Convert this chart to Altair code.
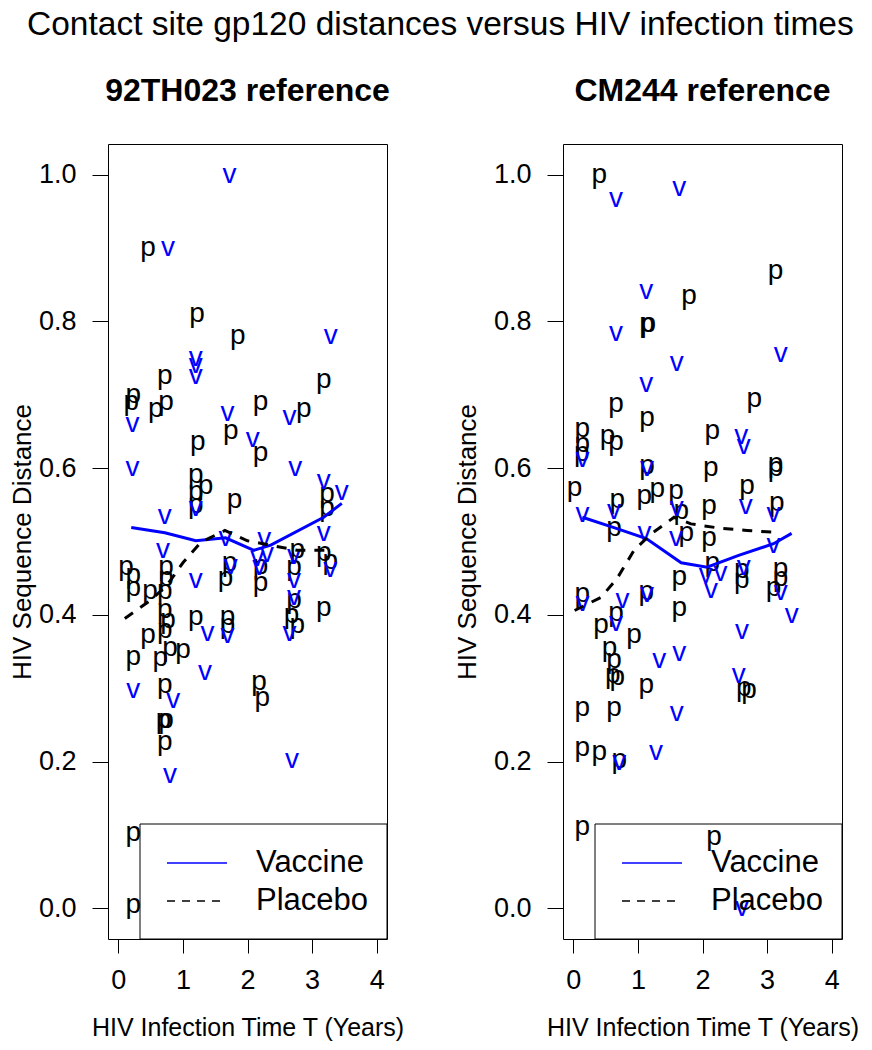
import altair as alt
import pandas as pd

FONT = "Liberation Sans"

# ---------------- 92TH023 reference (left panel) ----------------
L_PLAC_X = [0.46, 1.22, 1.85, 0.23, 0.20, 0.58, 0.72, 0.74, 1.74, 2.20, 2.20, 2.87, 3.18,
            1.23, 1.20, 1.35, 1.20, 1.20, 1.80, 3.23, 3.23, 2.77, 3.18, 3.28, 0.12, 0.23,
            0.74, 0.74, 0.23, 0.49, 0.72, 1.72, 1.66, 2.20, 2.20, 2.72, 2.72, 3.18, 1.20,
            1.69, 0.72, 0.77, 0.46, 0.72, 0.23, 0.65, 0.80, 1.00, 1.69, 2.77, 0.72, 2.18,
            2.23, 0.74, 0.70, 0.72, 0.23, 0.23, 2.68]
L_PLAC_Y = [0.900, 0.810, 0.780, 0.700, 0.690, 0.680, 0.725, 0.690, 0.650, 0.690, 0.620, 0.680, 0.720,
            0.635, 0.590, 0.575, 0.567, 0.550, 0.556, 0.565, 0.546, 0.488, 0.484, 0.474, 0.465, 0.454,
            0.465, 0.450, 0.437, 0.433, 0.433, 0.471, 0.450, 0.467, 0.443, 0.465, 0.420, 0.410, 0.397,
            0.397, 0.406, 0.393, 0.372, 0.380, 0.342, 0.341, 0.355, 0.352, 0.386, 0.386, 0.305, 0.308,
            0.287, 0.257, 0.257, 0.227, 0.103, 0.005, 0.400]
L_VACC_X = [1.72, 0.77, 1.20, 1.20, 1.20, 3.29, 0.22, 0.22, 1.69, 2.08, 2.65, 2.74, 1.20,
            0.72, 3.18, 3.46, 3.18, 1.66, 2.26, 2.30, 0.69, 2.15, 2.72, 3.28, 1.74, 2.18,
            2.72, 2.72, 1.20, 1.38, 1.69, 2.65, 1.34, 0.23, 0.85, 2.69, 0.80]
L_VACC_Y = [1.000, 0.900, 0.750, 0.740, 0.725, 0.780, 0.660, 0.600, 0.675, 0.640, 0.670, 0.600, 0.545,
            0.535, 0.583, 0.567, 0.512, 0.505, 0.504, 0.483, 0.488, 0.477, 0.480, 0.463, 0.467, 0.465,
            0.447, 0.424, 0.447, 0.375, 0.372, 0.376, 0.322, 0.298, 0.284, 0.202, 0.182]
L_VFIT_X = [0.20, 0.72, 1.20, 1.66, 2.10, 2.36, 3.18, 3.46]
L_VFIT_Y = [0.519, 0.512, 0.501, 0.505, 0.488, 0.495, 0.533, 0.552]
L_PFIT_X = [0.10, 0.50, 0.75, 1.00, 1.28, 1.65, 2.00, 2.35, 2.77, 3.20]
L_PFIT_Y = [0.395, 0.420, 0.440, 0.471, 0.499, 0.515, 0.501, 0.495, 0.488, 0.488]

# ---------------- CM244 reference (right panel) ----------------
R_PLAC_X = [0.40, 3.13, 1.79, 1.14, 1.16, 0.66, 2.80, 1.14, 0.14, 0.14, 0.13, 0.53, 0.66,
            2.15, 1.14, 0.02, 2.13, 3.13, 3.13, 0.68, 1.10, 1.30, 1.59, 1.67, 2.69, 2.10,
            3.15, 0.63, 1.75, 2.10, 2.15, 2.61, 2.61, 3.21, 3.21, 3.10, 1.64, 1.64, 0.14,
            1.13, 0.66, 0.43, 0.94, 0.56, 0.63, 0.68, 0.61, 1.13, 2.64, 2.72, 0.14, 0.63,
            0.14, 0.40, 0.71, 0.14, 2.18]
R_PLAC_Y = [1.000, 0.868, 0.834, 0.796, 0.796, 0.687, 0.694, 0.668, 0.653, 0.633, 0.620, 0.644, 0.635,
            0.651, 0.603, 0.573, 0.600, 0.606, 0.600, 0.556, 0.562, 0.572, 0.569, 0.542, 0.576, 0.549,
            0.553, 0.518, 0.512, 0.505, 0.471, 0.461, 0.447, 0.463, 0.450, 0.436, 0.451, 0.410, 0.429,
            0.431, 0.402, 0.386, 0.372, 0.355, 0.338, 0.315, 0.318, 0.304, 0.300, 0.297, 0.273, 0.273,
            0.219, 0.213, 0.202, 0.111, 0.098]
R_VACC_X = [0.66, 1.64, 1.13, 0.66, 1.60, 3.21, 1.13, 0.14, 2.60, 2.64, 1.14, 0.14, 0.63,
            1.60, 2.67, 3.10, 1.59, 1.10, 3.10, 2.05, 2.13, 2.28, 2.64, 3.21, 3.38, 0.14,
            1.14, 0.76, 2.61, 0.66, 1.33, 1.64, 2.56, 1.60, 0.71, 1.28, 2.61]
R_VACC_Y = [0.966, 0.981, 0.841, 0.784, 0.743, 0.755, 0.715, 0.613, 0.644, 0.630, 0.600, 0.538, 0.542,
            0.545, 0.549, 0.538, 0.505, 0.512, 0.495, 0.454, 0.434, 0.457, 0.465, 0.431, 0.400, 0.416,
            0.429, 0.420, 0.378, 0.389, 0.338, 0.348, 0.318, 0.266, 0.200, 0.213, 0.000]
R_VFIT_X = [0.14, 0.63, 1.13, 1.67, 2.07, 2.56, 3.10, 3.38]
R_VFIT_Y = [0.533, 0.519, 0.504, 0.471, 0.465, 0.481, 0.497, 0.511]
R_PFIT_X = [0.02, 0.43, 0.68, 0.94, 1.20, 1.56, 1.82, 2.28, 2.69, 3.20]
R_PFIT_Y = [0.406, 0.424, 0.450, 0.488, 0.510, 0.533, 0.524, 0.518, 0.515, 0.512]

X_TICKS = [0, 1, 2, 3, 4]
Y_TICKS = [0.0, 0.2, 0.4, 0.6, 0.8, 1.0]
GROUPS = ["Vaccine", "Placebo"]
COLORS = ["#0000FF", "#000000"]

W = 279
H = 795
XDOM = [-0.16, 4.16]
YDOM = [-0.0416, 1.0416]


def panel(title, px, py, vx, vy, vfx, vfy, pfx, pfy, ytitle_pad):
    xs = alt.Scale(domain=XDOM, nice=False, zero=False)
    ys = alt.Scale(domain=YDOM, nice=False, zero=False)
    xax = alt.Axis(values=X_TICKS, format="d", title="HIV Infection Time T (Years)",
                   grid=False, domain=False, tickSize=14, tickColor="black",
                   labelFontSize=27, labelPadding=14, labelColor="black",
                   titleFontSize=25, titleFontWeight="normal", titlePadding=22,
                   titleColor="black", labelFlush=False)
    yax = alt.Axis(values=Y_TICKS, format=".1f", title="HIV Sequence Distance",
                   grid=False, domain=False, tickSize=16, tickColor="black",
                   labelFontSize=27, labelPadding=16, labelColor="black",
                   titleFontSize=26, titleFontWeight="normal", titlePadding=ytitle_pad,
                   titleColor="black", labelFlush=False)
    pts = pd.DataFrame({
        "x": px + vx,
        "y": py + vy,
        "g": ["Placebo"] * len(px) + ["Vaccine"] * len(vx),
        "lab": ["p"] * len(px) + ["v"] * len(vx),
    })
    fits = pd.DataFrame({
        "x": vfx + pfx,
        "y": vfy + pfy,
        "g": ["Vaccine"] * len(vfx) + ["Placebo"] * len(pfx),
    })
    cscale = alt.Scale(domain=GROUPS, range=COLORS)

    text = alt.Chart(pts).mark_text(fontSize=28, baseline="middle", align="center").encode(
        x=alt.X("x:Q", scale=xs, axis=xax),
        y=alt.Y("y:Q", scale=ys, axis=yax),
        text="lab:N",
        color=alt.Color("g:N", scale=cscale, legend=None),
    )
    vline = alt.Chart(fits).transform_filter(alt.datum.g == "Vaccine").mark_line(
        color="#0000FF", strokeWidth=3).encode(x="x:Q", y="y:Q")
    pline = alt.Chart(fits).transform_filter(alt.datum.g == "Placebo").mark_line(
        color="#000000", strokeWidth=3, strokeDash=[10, 9]).encode(x="x:Q", y="y:Q")

    one = alt.Data(values=[{}])
    box = alt.Chart(one).mark_rect(filled=False, stroke="black", strokeWidth=1).encode(
        x=alt.value(W - 247), x2=alt.value(W), y=alt.value(H - 115), y2=alt.value(H))
    leg_v = alt.Chart(one).mark_rule(color="#0000FF", strokeWidth=1.5).encode(
        x=alt.value(W - 220), x2=alt.value(W - 160), y=alt.value(H - 76))
    leg_p = alt.Chart(one).mark_rule(color="black", strokeWidth=1.5, strokeDash=[8, 7]).encode(
        x=alt.value(W - 220), x2=alt.value(W - 160), y=alt.value(H - 38))
    txt_v = alt.Chart(one).mark_text(text="Vaccine", fontSize=31, align="left",
                                     baseline="middle", color="black").encode(
        x=alt.value(W - 131), y=alt.value(H - 76))
    txt_p = alt.Chart(one).mark_text(text="Placebo", fontSize=31, align="left",
                                     baseline="middle", color="black").encode(
        x=alt.value(W - 131), y=alt.value(H - 38))

    return alt.layer(text, vline, pline, box, leg_v, leg_p, txt_v, txt_p).properties(
        width=W, height=H,
        title=alt.TitleParams(title, fontSize=32, fontWeight="bold", anchor="middle",
                              offset=36, color="black"),
    )


left = panel("92TH023 reference", L_PLAC_X, L_PLAC_Y, L_VACC_X, L_VACC_Y,
             L_VFIT_X, L_VFIT_Y, L_PFIT_X, L_PFIT_Y, 3)
right = panel("CM244 reference", R_PLAC_X, R_PLAC_Y, R_VACC_X, R_VACC_Y,
              R_VFIT_X, R_VFIT_Y, R_PFIT_X, R_PFIT_Y, 13)

chart = alt.hconcat(left, right, spacing=48).properties(
    title=alt.TitleParams("Contact site gp120 distances versus HIV infection times",
                          fontSize=33.5, fontWeight="normal", anchor="middle",
                          dx=6, offset=32, color="black"),
    padding=0,
).configure(font=FONT).configure_view(stroke="black", strokeWidth=1)

chart.save("out.html", embed_options={"renderer": "svg", "actions": False})
